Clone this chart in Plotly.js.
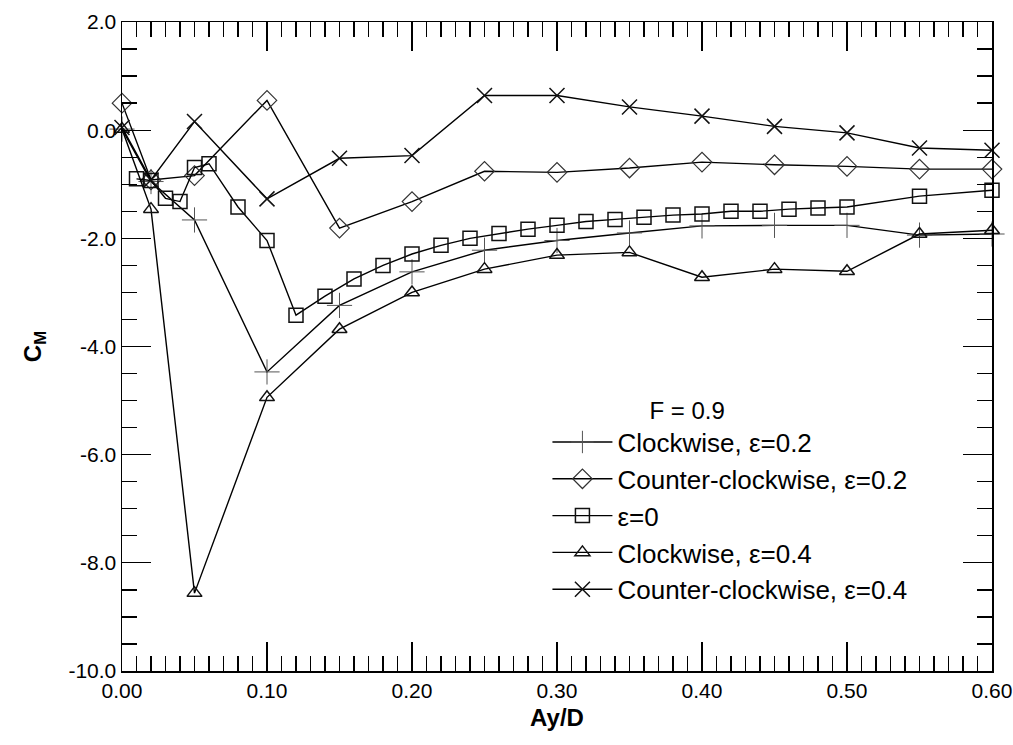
<!DOCTYPE html>
<html>
<head>
<meta charset="utf-8">
<script src="https://cdn.plot.ly/plotly-3.0.1.min.js"></script>
<style>html,body{margin:0;padding:0;background:#fff;}#chart{width:1013px;height:745px;}</style>
</head>
<body>
<div id="chart"></div>
<script>
// Clockwise, eps=0.2
const xCW02 = [0, 0.02, 0.05, 0.10, 0.15, 0.20, 0.25, 0.30, 0.35, 0.40, 0.45, 0.50, 0.55, 0.60];
const yCW02 = [0.02, -0.95, -1.66, -4.47, -3.24, -2.62, -2.22, -2.04, -1.90, -1.77, -1.76, -1.76, -1.94, -1.92];
// Counter-clockwise, eps=0.2
const xCCW02 = [0, 0.02, 0.05, 0.10, 0.15, 0.20, 0.25, 0.30, 0.35, 0.40, 0.45, 0.50, 0.55, 0.60];
const yCCW02 = [0.50, -0.92, -0.84, 0.55, -1.81, -1.32, -0.76, -0.78, -0.70, -0.59, -0.64, -0.67, -0.72, -0.72];
// eps=0
const xE0 = [0.01, 0.02, 0.03, 0.04, 0.05, 0.06, 0.08, 0.10, 0.12, 0.14, 0.16, 0.18, 0.20, 0.22, 0.24, 0.26, 0.28, 0.30, 0.32, 0.34, 0.36, 0.38, 0.40, 0.42, 0.44, 0.46, 0.48, 0.50, 0.55, 0.60];
const yE0 = [-0.90, -0.93, -1.26, -1.32, -0.69, -0.62, -1.42, -2.04, -3.42, -3.07, -2.75, -2.50, -2.29, -2.13, -2.00, -1.91, -1.83, -1.76, -1.69, -1.65, -1.61, -1.57, -1.55, -1.50, -1.50, -1.46, -1.44, -1.42, -1.22, -1.11];
// Clockwise, eps=0.4
const xCW04 = [0, 0.02, 0.05, 0.10, 0.15, 0.20, 0.25, 0.30, 0.35, 0.40, 0.45, 0.50, 0.55, 0.60];
const yCW04 = [0.02, -1.46, -8.56, -4.94, -3.68, -3.00, -2.57, -2.31, -2.26, -2.72, -2.57, -2.61, -1.92, -1.85];
// Counter-clockwise, eps=0.4
const xCCW04 = [0, 0.02, 0.05, 0.10, 0.15, 0.20, 0.25, 0.30, 0.35, 0.40, 0.45, 0.50, 0.55, 0.60];
const yCCW04 = [0.05, -0.92, 0.16, -1.27, -0.52, -0.47, 0.64, 0.64, 0.43, 0.26, 0.07, -0.05, -0.33, -0.37];

const names = ['Clockwise, ε=0.2', 'Counter-clockwise, ε=0.2', 'ε=0', 'Clockwise, ε=0.4', 'Counter-clockwise, ε=0.4'];
const legendTitle = 'F = 0.9';

// Tick labels
const xTickVals = [0, 0.1, 0.2, 0.3, 0.4, 0.5, 0.6];
const xTickText = ['0.00', '0.10', '0.20', '0.30', '0.40', '0.50', '0.60'];
const yTickVals = [2, 0, -2, -4, -6, -8, -10];
const yTickText = ['2.0', '0.0', '-2.0', '-4.0', '-6.0', '-8.0', '-10.0'];

function tr(x, y, name, symbol, size, mcolor, mwidth) {
  return {
    x: x, y: y, name: name, type: 'scatter', mode: 'lines+markers',
    line: {color: '#000', width: 1.4},
    marker: {symbol: symbol, size: size, color: mcolor, line: {color: mcolor, width: mwidth}},
    cliponaxis: false
  };
}

const data = [
  tr(xCW02, yCW02, names[0], 'cross-thin-open', 18, '#555', 1),
  tr(xCCW02, yCCW02, names[1], 'diamond-open', 15, '#333', 1.2),
  tr(xE0, yE0, names[2], 'square-open', 14, '#111', 1.5),
  tr(xCW04, yCW04, names[3], 'triangle-up-open', 13, '#111', 1.5),
  tr(xCCW04, yCCW04, names[4], 'x-thin-open', 15, '#111', 1.5)
];

const axisCommon = {
  showgrid: false, zeroline: false, showline: true, mirror: 'allticks',
  linecolor: '#000', linewidth: 1.5, ticks: 'inside', ticklen: 29, tickwidth: 1.3, tickcolor: '#000'
};

const pad = '\u00a0'.repeat(15);

const layout = {
  width: 1013, height: 745,
  margin: {l: 122, r: 21, t: 22, b: 74},
  paper_bgcolor: '#fff', plot_bgcolor: '#fff',
  font: {family: 'Liberation Sans, Arial, sans-serif', color: '#000', size: 20},
  showlegend: true,
  xaxis: Object.assign({}, axisCommon, {
    range: [0, 0.6], tickmode: 'array', tickvals: xTickVals, ticktext: xTickText,
    tickfont: {family: 'Liberation Sans Narrow, Liberation Sans, sans-serif', size: 21},
    minor: {dtick: 0.01, tick0: 0, ticks: 'inside', ticklen: 15, tickwidth: 1.3, tickcolor: '#000'},
    title: {text: '<b>Ay/D</b>', font: {family: 'Liberation Sans Narrow, Liberation Sans, sans-serif', size: 24}, standoff: 8}
  }),
  yaxis: Object.assign({}, axisCommon, {
    range: [-10, 2], tickmode: 'array', tickvals: yTickVals, ticktext: yTickText,
    tickfont: {size: 21},
    minor: {dtick: 0.5, tick0: 0, ticks: 'inside', ticklen: 15, tickwidth: 1.3, tickcolor: '#000'},
    title: {text: '<b>C<sub>M</sub></b>', font: {size: 24}, standoff: 20}
  }),
  legend: {
    x: 0.489, y: 0.437, xanchor: 'left', yanchor: 'top',
    bgcolor: 'rgba(0,0,0,0)', borderwidth: 0,
    font: {size: 26}, itemwidth: 60,
    title: {text: pad + legendTitle, font: {size: 24}, side: 'top'},
    tracegroupgap: 0
  }
};

Plotly.newPlot('chart', data, layout, {displayModeBar: false, staticPlot: true});
</script>
</body>
</html>
